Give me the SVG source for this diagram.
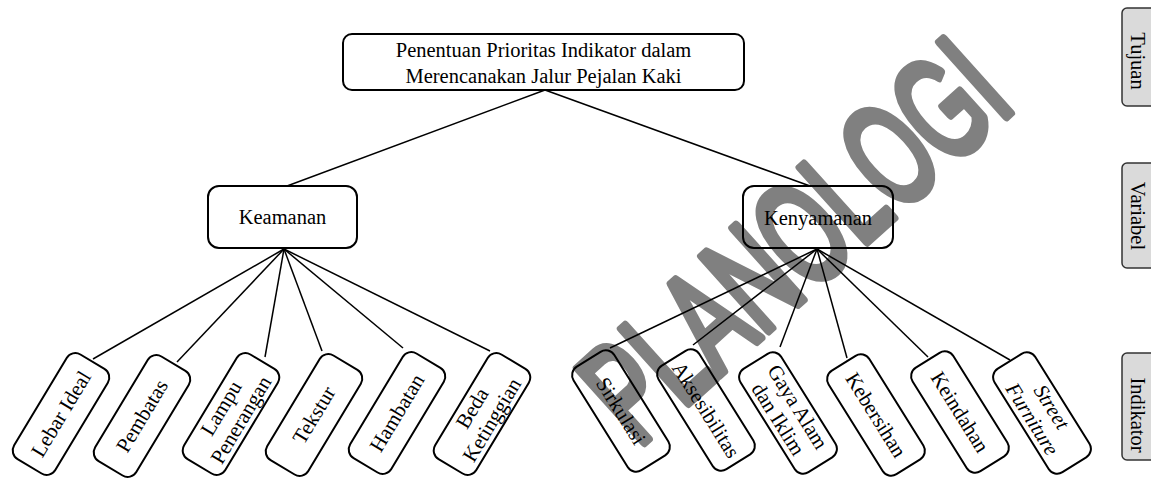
<svg xmlns="http://www.w3.org/2000/svg" width="1151" height="479" viewBox="0 0 1151 479">
<style>
.box{fill:none;stroke:#000;stroke-width:2}
.side{fill:#dadada;stroke:#333;stroke-width:1.5}
.t{font-family:"Liberation Serif","Times New Roman",serif;font-size:20.5px;fill:#000;text-anchor:middle}
.ti{font-family:"Liberation Serif","Times New Roman",serif;font-size:21px;fill:#000;text-anchor:middle}
.it{font-style:italic}
.wm{font-family:"Liberation Sans",Arial,sans-serif;font-size:145px;fill:#808080;stroke:#808080;stroke-width:9;stroke-linejoin:round;stroke-linecap:round}
.conn line{stroke:#000;stroke-width:1.5}
</style>
<rect width="1151" height="479" fill="#fff"/>
<g id="watermark">
<text class="wm" transform="rotate(-42)" x="174" y="760" textLength="511" lengthAdjust="spacingAndGlyphs">PLANOLOGI</text>
</g>
<g class="conn" id="connectors">
<line x1="545" y1="90" x2="287" y2="186"/>
<line x1="545" y1="90" x2="810" y2="186"/>
<line x1="284" y1="249" x2="93" y2="359"/>
<line x1="284" y1="249" x2="177" y2="362"/>
<line x1="284" y1="249" x2="265" y2="357"/>
<line x1="284" y1="249" x2="322" y2="351"/>
<line x1="284" y1="249" x2="403" y2="348"/>
<line x1="284" y1="249" x2="490" y2="351"/>
<line x1="817" y1="249" x2="610" y2="348"/>
<line x1="817" y1="249" x2="693" y2="345"/>
<line x1="817" y1="249" x2="780" y2="347"/>
<line x1="817" y1="249" x2="847" y2="358"/>
<line x1="817" y1="249" x2="928" y2="357"/>
<line x1="817" y1="249" x2="1010" y2="360"/>
</g>
<g id="goal">
<rect class="box" x="343" y="34" width="401" height="56" rx="9"/>
<text class="t" x="543.5" y="57">Penentuan Prioritas Indikator dalam</text>
<text class="t" x="543.5" y="83">Merencanakan Jalur Pejalan Kaki</text>
</g>
<g id="keamanan">
<rect class="box" x="208" y="186" width="149" height="62" rx="11"/>
<text class="t" x="282.5" y="224">Keamanan</text>
</g>
<g id="kenyamanan">
<rect class="box" x="743" y="186" width="150" height="62" rx="11"/>
<text class="t" x="818" y="225">Kenyamanan</text>
</g>
<g id="lebar-ideal" transform="translate(61,414) rotate(-59)">
<rect class="box" x="-61" y="-24" width="122" height="48" rx="10"/>
<text class="ti" y="7">Lebar Ideal</text>
</g>
<g id="pembatas" transform="translate(142,416) rotate(-59)">
<rect class="box" x="-61" y="-24" width="122" height="48" rx="10"/>
<text class="ti" y="7">Pembatas</text>
</g>
<g id="lampu" transform="translate(231,414) rotate(-59)">
<rect class="box" x="-61" y="-24" width="122" height="48" rx="10"/>
<text class="ti" y="-4.5">Lampu</text>
<text class="ti" y="18.5">Penerangan</text>
</g>
<g id="tekstur" transform="translate(314,415) rotate(-59)">
<rect class="box" x="-61" y="-24" width="122" height="48" rx="10"/>
<text class="ti" y="7">Tekstur</text>
</g>
<g id="hambatan" transform="translate(397,413) rotate(-59)">
<rect class="box" x="-61" y="-24" width="122" height="48" rx="10"/>
<text class="ti" y="7">Hambatan</text>
</g>
<g id="beda-ketinggian" transform="translate(482,414) rotate(-59)">
<rect class="box" x="-61" y="-24" width="122" height="48" rx="10"/>
<text class="ti" y="-4.5">Beda</text>
<text class="ti" y="18.5">Ketinggian</text>
</g>
<g id="sirkulasi" transform="translate(621,411) rotate(58)">
<rect class="box" x="-61" y="-24" width="122" height="48" rx="10"/>
<text class="ti" y="7">Sirkulasi</text>
</g>
<g id="aksesibilitas" transform="translate(706,410) rotate(58)">
<rect class="box" x="-61" y="-24" width="122" height="48" rx="10"/>
<text class="ti" y="7">Aksesibilitas</text>
</g>
<g id="gaya-alam" transform="translate(788,413) rotate(58)">
<rect class="box" x="-61" y="-24" width="122" height="48" rx="10"/>
<text class="ti" y="-4.5">Gaya Alam</text>
<text class="ti" y="18.5">dan Iklim</text>
</g>
<g id="kebersihan" transform="translate(876,415) rotate(58)">
<rect class="box" x="-61" y="-24" width="122" height="48" rx="10"/>
<text class="ti" y="7">Kebersihan</text>
</g>
<g id="keindahan" transform="translate(960,412) rotate(58)">
<rect class="box" x="-61" y="-24" width="122" height="48" rx="10"/>
<text class="ti" y="7">Keindahan</text>
</g>
<g id="street-furniture" transform="translate(1042,413) rotate(58)">
<rect class="box" x="-61" y="-24" width="122" height="48" rx="10"/>
<text class="ti it" y="-4.5">Street</text>
<text class="ti it" y="18.5">Furniture</text>
</g>
<g id="label-tujuan">
<rect class="side" x="1122" y="8" width="40" height="98" rx="5"/>
<text class="t" transform="translate(1138,61) rotate(90)" y="7">Tujuan</text>
</g>
<g id="label-variabel">
<rect class="side" x="1122" y="163" width="40" height="105" rx="5"/>
<text class="t" transform="translate(1138,216) rotate(90)" y="7">Variabel</text>
</g>
<g id="label-indikator">
<rect class="side" x="1122" y="353" width="40" height="107" rx="5"/>
<text class="t" transform="translate(1138,415) rotate(90)" y="7">Indikator</text>
</g>
</svg>
